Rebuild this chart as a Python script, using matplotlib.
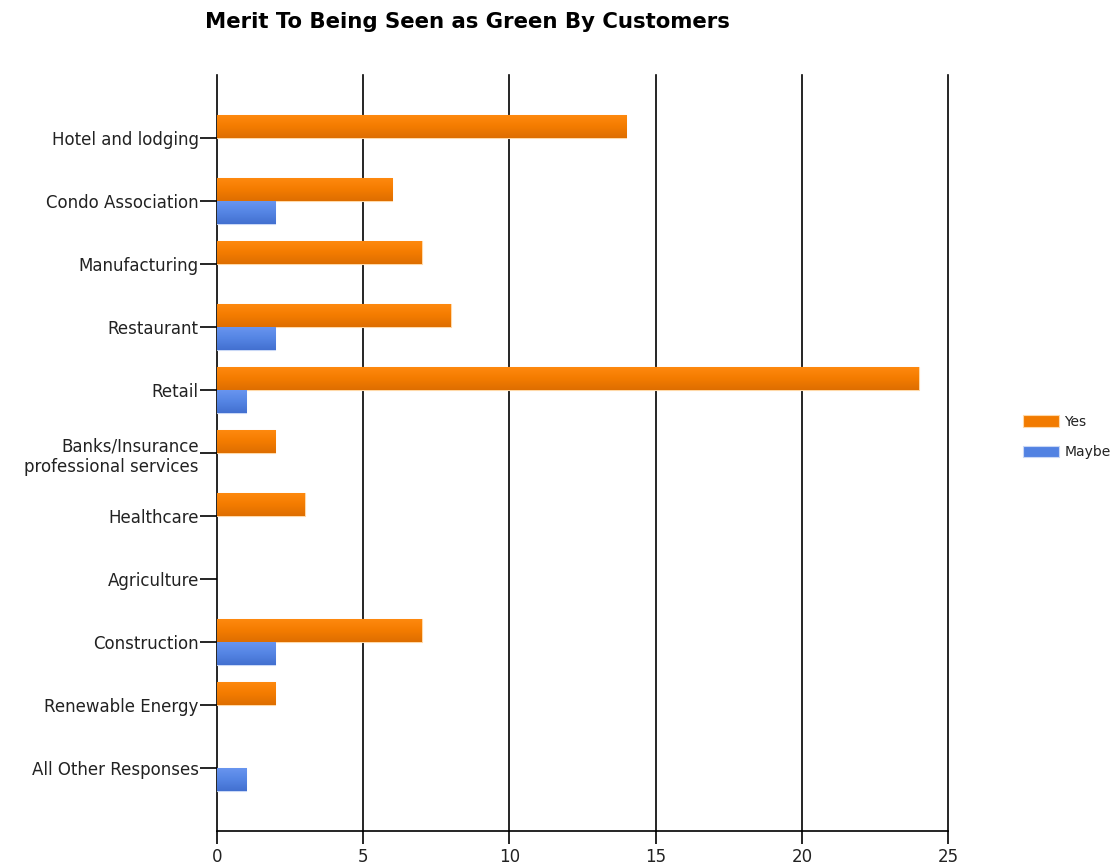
import numpy as np
import matplotlib
matplotlib.use("Agg")
import matplotlib.pyplot as plt
from matplotlib.colors import LinearSegmentedColormap

plt.rcParams["font.family"] = ["DejaVu Sans"]

categories = [
    "Hotel and lodging",
    "Condo Association",
    "Manufacturing",
    "Restaurant",
    "Retail",
    "Banks/Insurance\nprofessional services",
    "Healthcare",
    "Agriculture",
    "Construction",
    "Renewable Energy",
    "All Other Responses",
]
yes_values = [14, 6, 7, 8, 24, 2, 3, 0, 7, 2, 0]
maybe_values = [0, 2, 0, 2, 1, 0, 0, 0, 2, 0, 1]
x_ticks = [0, 5, 10, 15, 20, 25]

orange = "#F27B00"
blue = "#5282E2"
orange_grad = LinearSegmentedColormap.from_list("og", ["#FF8A10", "#F47C00", "#DE6E00"])
blue_grad = LinearSegmentedColormap.from_list("bg", ["#6A96F0", "#5585E4", "#4370D0"])

fig = plt.figure(figsize=(11.18, 8.67), dpi=100)
ax = fig.add_axes([0.194, 0.0415, 0.654, 0.872])

y = np.arange(len(categories))
h = 0.37
yes = np.array(yes_values, dtype=float)
maybe = np.array(maybe_values, dtype=float)


def shade(bars, cmap):
    # vertical gradient inside each bar, light on top
    grad = np.linspace(0, 1, 64).reshape(-1, 1)
    for r in bars:
        x0, y0 = r.get_x(), r.get_y()
        w, hh = r.get_width(), r.get_height()
        im = ax.imshow(grad, cmap=cmap, aspect="auto", zorder=3.5,
                       extent=[x0, x0 + w, y0 + hh, y0], interpolation="bilinear")
        im.set_clip_path(r)


# zero-length bars are skipped so their outlines don't sit on the axis
m = yes > 0
b1 = ax.barh(y[m] - h / 2, yes[m], height=h, color=orange, edgecolor="#FFD9A8",
             linewidth=0.8, label="Yes", zorder=3)
m = maybe > 0
b2 = ax.barh(y[m] + h / 2, maybe[m], height=h, color=blue, edgecolor="#C9D8F6",
             linewidth=0.8, label="Maybe", zorder=3)
shade(b1, orange_grad)
shade(b2, blue_grad)

ax.set_xlim(0, 25)
ax.set_ylim(len(categories), -1)
ax.set_yticks(y)
ax.set_yticklabels(categories, fontsize=12, color="#222222")
ax.set_xticks(x_ticks)
ax.set_xticklabels([str(t) for t in x_ticks], fontsize=12, color="#222222")
ax.tick_params(axis="y", length=12, width=1.2, color="black", pad=1)
ax.tick_params(axis="x", length=9, width=1.2, color="black", pad=3)

for t in x_ticks[1:]:
    ax.axvline(t, color="black", linewidth=1.2, zorder=1, clip_on=False)
for side in ["top", "right"]:
    ax.spines[side].set_visible(False)
ax.spines["left"].set_linewidth(1.2)
ax.spines["bottom"].set_linewidth(1.2)

fig.text(205 / 1118, 1 - 22 / 867, "Merit To Being Seen as Green By Customers",
         fontsize=15.3, fontweight="bold", ha="left", va="center")

fig.legend(loc="center left", bbox_to_anchor=(1010 / 1118, 1 - 437 / 867),
           frameon=False, fontsize=10, handlelength=2.6, handleheight=0.9,
           labelspacing=1.2, handletextpad=0.4, labelcolor="#222222")

fig.savefig("out.png", dpi=100)
